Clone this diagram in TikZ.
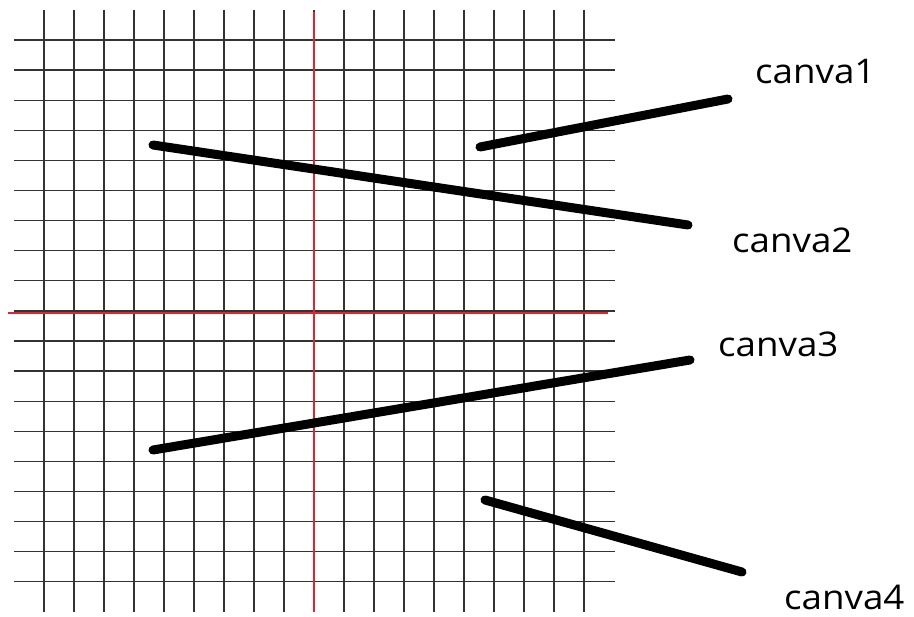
\documentclass[tikz,border=0pt]{standalone}
\usepackage{fontspec}
\setmainfont{Open Sans}
\newfontfamily\canvafont[FakeStretch=1.08]{Open Sans}
\usetikzlibrary{positioning}
\definecolor{axisred}{RGB}{226,36,48}

\begin{document}
\begin{tikzpicture}[x=1pt,y=-1pt,
  gridline/.style={black!80,line width=1.3pt},
  axisline/.style={axisred,line width=2.5pt},
  pointer/.style={line width=9pt,line cap=round},
  label/.style={font=\canvafont\fontsize{34}{40}\selectfont,inner sep=0pt,anchor=base west}]
\useasboundingbox (0,0) rectangle (914,617);
% grid
\foreach \i in {0,...,18}
  \draw[gridline] (44+30*\i,10) -- (44+30*\i,612);
\foreach \j in {0,...,18}
  \draw[gridline] (14,40+30.1*\j) -- (615,40+30.1*\j);
% axes
\draw[axisline] (314,12) -- (314,612);
\draw[axisline] (8,313) -- (608,313);
% labels
\node[label] (c1) at (755,84) {canva1};
\node[label] (c2) at (732,253) {canva2};
\node[label] (c3) at (718,357) {canva3};
\node[label] (c4) at (784,609) {canva4};
% strokes
\coordinate (a1) at (480,147); \coordinate (b1) at (728,99);
\coordinate (a2) at (153,145); \coordinate (b2) at (688,225);
\coordinate (a3) at (153,450); \coordinate (b3) at (690,360);
\coordinate (a4) at (485,500); \coordinate (b4) at (742,572);
\draw[pointer] (a1) -- (b1);
\draw[pointer] (a2) -- (b2);
\draw[pointer] (a3) -- (b3);
\draw[pointer] (a4) -- (b4);
\end{tikzpicture}
\end{document}
